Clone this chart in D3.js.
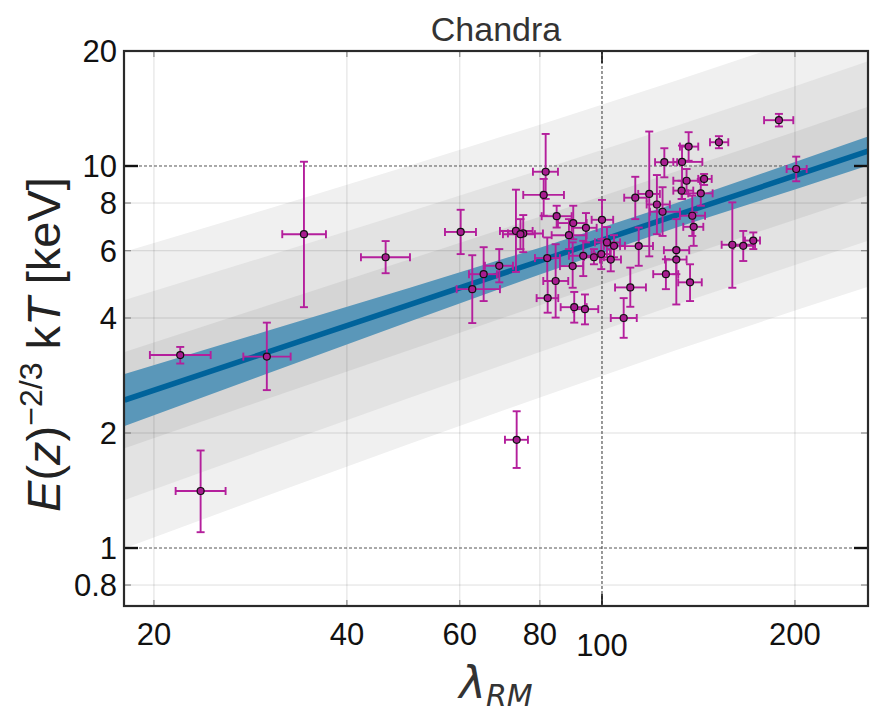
<!DOCTYPE html>
<html>
<head>
<meta charset="utf-8">
<script src="https://cdn.jsdelivr.net/npm/d3@7"></script>
<style>
  body { margin: 0; background: #fff; }
  svg text { font-family: "Liberation Sans", Arial, sans-serif; fill: #111; }
</style>
</head>
<body>
<svg id="chart" width="884" height="718"></svg>
<script>
"use strict";

// cluster richness (with 1 sigma range)
let lambda   = [21.98, 23.65, 30.0, 34.28, 45.97, 60.19, 62.75, 65.37, 69.14, 73.41, 75.36, 74.61, 73.6, 81.68, 81.1, 84.97, 90.19, 88.81, 94.4, 100.0, 82.15, 84.66, 82.27, 90.0, 90.51, 94.06, 93.49, 97.15, 99.74, 101.8, 103.2, 104.4, 114.1, 110.7, 108.1, 112.7, 118.5, 121.8, 124.3, 125.1, 133.3, 136.5, 135.5, 133.1, 144.3, 142.6, 138.3, 139.0, 130.6, 130.6, 125.8, 137.2, 152.2, 159.7, 166.1, 172.2, 188.8, 200.9];
let lambdaLo = [19.71, 21.62, 27.57, 31.71, 42.07, 56.89, 59.33, 62.01, 65.67, 69.31, 71.33, 70.06, 70.57, 78.03, 75.36, 80.52, 85.37, 83.46, 89.67, 96.35, 78.59, 80.98, 79.07, 85.98, 86.2, 90.19, 88.81, 93.72, 96.35, 97.5, 99.28, 100.7, 106.7, 104.8, 103.2, 108.3, 113.9, 117.4, 118.8, 121.0, 129.2, 132.3, 129.2, 129.2, 141.3, 136.3, 132.3, 133.9, 124.9, 125.4, 120.2, 131.5, 147.4, 153.7, 160.3, 167.1, 179.0, 194.1];
let lambdaHi = [24.52, 25.87, 32.68, 37.1, 50.17, 63.59, 69.31, 68.57, 72.63, 77.95, 80.89, 78.59, 76.64, 85.37, 87.23, 89.67, 94.64, 94.64, 98.1, 104.1, 85.98, 88.58, 85.46, 93.49, 94.64, 98.67, 97.5, 100.7, 102.9, 106.7, 107.05, 108.6, 120.1, 117.1, 113.3, 117.4, 123.1, 127.6, 132.3, 131.0, 143.4, 141.3, 142.2, 138.8, 148.3, 148.8, 144.8, 143.9, 136.8, 135.5, 131.5, 143.1, 157.4, 173.3, 172.2, 176.4, 198.8, 208.6];

// scaled temperature in keV (with 1 sigma range)
let kT   = [3.2, 1.41, 3.17, 6.63, 5.77, 6.72, 4.76, 5.21, 5.48, 6.76, 6.66, 6.63, 1.92, 9.66, 8.4, 7.39, 7.09, 6.59, 6.89, 7.23, 5.74, 5.0, 4.51, 5.47, 4.27, 4.22, 5.82, 5.77, 5.88, 6.31, 5.69, 6.18, 6.17, 4.81, 4.0, 8.26, 8.45, 7.93, 7.59, 10.23, 10.25, 11.24, 9.15, 8.62, 9.25, 8.48, 7.41, 6.93, 6.02, 5.69, 5.21, 4.96, 11.54, 6.22, 6.18, 6.38, 13.18, 9.82];
let kTLo = [3.04, 1.1, 2.59, 4.27, 5.24, 5.88, 3.88, 4.43, 4.96, 5.28, 5.95, 6.06, 1.62, 8.2, 7.41, 6.9, 6.43, 6.06, 6.31, 6.43, 5.0, 4.01, 4.13, 4.8, 3.89, 3.85, 5.15, 5.53, 5.37, 5.77, 5.3, 5.77, 5.48, 4.28, 3.55, 7.26, 5.8, 6.63, 6.56, 9.34, 8.2, 10.32, 8.45, 8.2, 8.92, 7.87, 6.56, 6.18, 4.34, 5.21, 4.76, 4.43, 11.13, 4.8, 5.64, 6.06, 12.69, 9.12];
let kTHi = [3.36, 1.8, 3.89, 10.26, 6.36, 7.68, 5.84, 6.13, 6.06, 8.67, 7.44, 7.26, 2.28, 12.13, 9.25, 7.87, 7.87, 7.26, 7.53, 8.15, 6.5, 6.24, 5.0, 6.31, 4.68, 4.61, 6.37, 6.06, 6.43, 6.92, 6.06, 6.59, 6.9, 5.42, 4.51, 9.37, 12.31, 9.47, 8.8, 11.13, 11.31, 12.26, 9.82, 9.15, 9.53, 9.25, 8.36, 7.56, 7.26, 6.06, 5.7, 5.53, 11.97, 8.03, 6.76, 6.7, 13.69, 10.58];

// best fit relation and its bands, half widths in dex
let fitLambda = [18, 30, 50, 80, 130, 200, 260];
let fitKT     = [2.44, 3.25, 4.33, 5.64, 7.41, 9.43, 10.94];
let fitErr    = [0.068, 0.056, 0.044, 0.035, 0.032, 0.036, 0.038];
let scatter1  = [0.126, 0.122, 0.119, 0.116, 0.115, 0.115, 0.116];
let scatter2  = [0.262, 0.252, 0.244, 0.238, 0.234, 0.234, 0.235];
let scatter3  = [0.388, 0.375, 0.364, 0.357, 0.353, 0.353, 0.355];

let xTicks = [20, 40, 60, 80, 100, 200];
let yTicks = [0.8, 1, 2, 4, 6, 8, 10, 20];
let xMajor = [100];
let yMajor = [1, 10];

let margin = { top: 51, right: 16, bottom: 112, left: 124 };
let width = 884 - margin.left - margin.right;
let height = 718 - margin.top - margin.bottom;

let magenta = "#b41f9c";

let svg = d3.select("#chart");
let g = svg.append("g").attr("transform", `translate(${margin.left},${margin.top})`);

let x = d3.scaleLog().domain([17.96, 260]).range([0, width]);
let y = d3.scaleLog().domain([0.705, 20]).range([height, 0]);

svg.append("defs").append("clipPath").attr("id", "plot-clip")
  .append("rect").attr("width", width).attr("height", height);

let plot = g.append("g").attr("clip-path", "url(#plot-clip)");

// bands: widest first so narrower ones sit on top
function band(widths) {
  return d3.area()
    .x((d, i) => x(fitLambda[i]))
    .y0((d, i) => y(fitKT[i] / Math.pow(10, widths[i])))
    .y1((d, i) => y(fitKT[i] * Math.pow(10, widths[i])));
}

plot.append("path").datum(fitLambda).attr("d", band(scatter3)).style("fill", "#f0f0f0");
plot.append("path").datum(fitLambda).attr("d", band(scatter2)).style("fill", "#e3e3e3");
plot.append("path").datum(fitLambda).attr("d", band(scatter1)).style("fill", "#d5d5d5");

// grid
plot.selectAll(".xgrid").data(xTicks.filter(t => xMajor.indexOf(t) < 0)).enter().append("line")
  .attr("x1", d => x(d)).attr("x2", d => x(d)).attr("y1", 0).attr("y2", height)
  .style("stroke", "rgba(0,0,0,0.13)").style("stroke-width", 1);
plot.selectAll(".ygrid").data(yTicks.filter(t => yMajor.indexOf(t) < 0)).enter().append("line")
  .attr("y1", d => y(d)).attr("y2", d => y(d)).attr("x1", 0).attr("x2", width)
  .style("stroke", "rgba(0,0,0,0.13)").style("stroke-width", 1);

// dashed major grid lines
plot.selectAll(".xmaj").data(xMajor).enter().append("line")
  .attr("x1", d => x(d)).attr("x2", d => x(d)).attr("y1", 0).attr("y2", height)
  .style("stroke", "#333").style("stroke-width", 1).style("stroke-dasharray", "3,2");
plot.selectAll(".ymaj").data(yMajor).enter().append("line")
  .attr("y1", d => y(d)).attr("y2", d => y(d)).attr("x1", 0).attr("x2", width)
  .style("stroke", "#555").style("stroke-width", 1).style("stroke-dasharray", "3,2");

// fit uncertainty and best fit line
plot.append("path").datum(fitLambda).attr("d", band(fitErr)).style("fill", "#5a97b9");
plot.append("path").datum(fitLambda)
  .attr("d", d3.line().x((d, i) => x(fitLambda[i])).y((d, i) => y(fitKT[i])))
  .style("fill", "none").style("stroke", "#00639b").style("stroke-width", 5.5);

// error bars
let cap = 4;
let pts = lambda.map((l, i) => ({ i: i, cx: x(l), cy: y(kT[i]) }));
let bars = plot.append("g").style("stroke", magenta).style("stroke-width", 1.9).style("fill", "none");
pts.forEach(p => {
  let x0 = x(lambdaLo[p.i]), x1 = x(lambdaHi[p.i]);
  let y0 = y(kTLo[p.i]), y1 = y(kTHi[p.i]);
  bars.append("line").attr("x1", x0).attr("x2", x1).attr("y1", p.cy).attr("y2", p.cy);
  bars.append("line").attr("x1", x0).attr("x2", x0).attr("y1", p.cy - cap).attr("y2", p.cy + cap);
  bars.append("line").attr("x1", x1).attr("x2", x1).attr("y1", p.cy - cap).attr("y2", p.cy + cap);
  bars.append("line").attr("x1", p.cx).attr("x2", p.cx).attr("y1", y0).attr("y2", y1);
  bars.append("line").attr("x1", p.cx - cap).attr("x2", p.cx + cap).attr("y1", y0).attr("y2", y0);
  bars.append("line").attr("x1", p.cx - cap).attr("x2", p.cx + cap).attr("y1", y1).attr("y2", y1);
});

plot.selectAll(".pt").data(pts).enter().append("circle")
  .attr("cx", d => d.cx).attr("cy", d => d.cy).attr("r", 3.5)
  .style("fill", "#a81d90").style("stroke", "#111").style("stroke-width", 1.2);

// inward ticks
let tickG = g.append("g");
xTicks.forEach(t => {
  let major = xMajor.indexOf(t) >= 0;
  let len = major ? 12 : 6;
  tickG.append("line").attr("x1", x(t)).attr("x2", x(t)).attr("y1", height).attr("y2", height - len)
    .style("stroke", major ? "#111" : "#777").style("stroke-width", major ? 1.6 : 1);
  tickG.append("line").attr("x1", x(t)).attr("x2", x(t)).attr("y1", 0).attr("y2", len)
    .style("stroke", major ? "#111" : "#777").style("stroke-width", major ? 1.6 : 1);
});
yTicks.forEach(t => {
  let major = yMajor.indexOf(t) >= 0;
  let len = major ? 14 : 7;
  tickG.append("line").attr("y1", y(t)).attr("y2", y(t)).attr("x1", 0).attr("x2", len)
    .style("stroke", major ? "#111" : "#777").style("stroke-width", major ? 2.4 : 1);
  tickG.append("line").attr("y1", y(t)).attr("y2", y(t)).attr("x1", width).attr("x2", width - len)
    .style("stroke", major ? "#111" : "#777").style("stroke-width", major ? 2.4 : 1);
});

// frame
g.append("rect").attr("width", width).attr("height", height)
  .style("fill", "none").style("stroke", "#2a2a2a").style("stroke-width", 2.2);

// tick labels
g.selectAll(".xlab").data(xTicks).enter().append("text")
  .attr("x", d => x(d)).attr("y", d => height + (d === 100 ? 50 : 39))
  .attr("text-anchor", "middle").style("font-size", "31px")
  .text(d => d);
g.selectAll(".ylab").data(yTicks).enter().append("text")
  .attr("x", -7).attr("y", d => y(d)).attr("dy", "0.36em")
  .attr("text-anchor", "end").style("font-size", "31px")
  .text(d => d);

// title
svg.append("text").attr("x", margin.left + width / 2).attr("y", 41)
  .attr("text-anchor", "middle").style("font-size", "34px").style("fill", "#333")
  .text("Chandra");

// axis labels
let xl = svg.append("text").attr("x", margin.left + width / 2).attr("y", 698)
  .attr("text-anchor", "middle")
  .style("font-family", "'DejaVu Sans', sans-serif").style("font-style", "italic").style("fill", "#333");
xl.append("tspan").style("font-size", "45px").text("λ");
xl.append("tspan").attr("dy", 8).style("font-size", "30px").text("RM");

let yl = svg.append("text")
  .attr("transform", `translate(60,${margin.top + height / 2 + 16}) rotate(-90)`)
  .attr("text-anchor", "middle").style("font-size", "47px").style("fill", "#222");
yl.append("tspan").style("font-style", "italic").text("E");
yl.append("tspan").text("(");
yl.append("tspan").style("font-style", "italic").text("z");
yl.append("tspan").text(")");
yl.append("tspan").attr("dy", -18).style("font-size", "32px").text("−2/3");
yl.append("tspan").attr("dy", 18).text(" k");
yl.append("tspan").style("font-style", "italic").text("T");
yl.append("tspan").text(" [keV]");
</script>
</body>
</html>
